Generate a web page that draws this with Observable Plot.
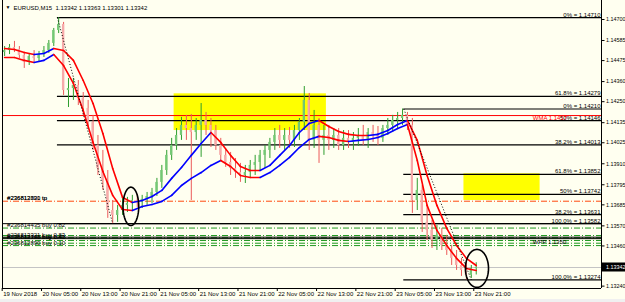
<!DOCTYPE html>
<html><head><meta charset="utf-8">
<script src="https://cdn.jsdelivr.net/npm/d3@7"></script>
<script src="https://cdn.jsdelivr.net/npm/@observablehq/plot@0.6"></script>
<style>html,body{margin:0;padding:0;background:#f0f0f0;overflow:hidden}svg{display:block}</style>
</head><body><div id="chart"></div>
<script>
// ---------- data ----------
const symbol = "EURUSD,M15";
const lastQuote = [1.13342, 1.13363, 1.13301, 1.13342];
const firstBar = "2018-11-19T21:00Z"; // hourly aggregated bars
const opens = [1.14519,1.14530,1.14547,1.14536,1.14503,1.14465,1.14497,1.14486,1.14508,1.14530,1.14569,1.14640,1.14673,1.14311,1.14322,1.14339,1.14268,1.14213,1.14136,1.14010,1.13884,1.13819,1.13654,1.13627,1.13654,1.13682,1.13693,1.13709,1.13698,1.13715,1.13731,1.13753,1.13808,1.13873,1.13956,1.14010,1.14065,1.14120,1.14103,1.14081,1.14120,1.14147,1.14120,1.14092,1.14010,1.13956,1.13917,1.13884,1.13862,1.13846,1.13862,1.13901,1.13917,1.13956,1.13983,1.14027,1.14065,1.14038,1.14065,1.14038,1.14092,1.14136,1.14257,1.14038,1.14120,1.14038,1.14065,1.14038,1.14065,1.14010,1.14049,1.14027,1.14049,1.14065,1.14038,1.14081,1.14065,1.14049,1.14103,1.14120,1.14147,1.14158,1.14175,1.14120,1.13709,1.13764,1.13589,1.13545,1.13490,1.13518,1.13463,1.13435,1.13392,1.13353,1.13326,1.13299,1.13337];
const highs = [1.14552,1.14563,1.14580,1.14552,1.14519,1.14514,1.14530,1.14525,1.14552,1.14585,1.14651,1.14710,1.14684,1.14377,1.14377,1.14366,1.14300,1.14257,1.14175,1.14065,1.13983,1.13873,1.13709,1.13682,1.13720,1.13726,1.13737,1.13742,1.13737,1.13753,1.13775,1.13830,1.13901,1.13983,1.14049,1.14103,1.14164,1.14175,1.14180,1.14158,1.14240,1.14191,1.14158,1.14120,1.14049,1.13994,1.13972,1.13939,1.13912,1.13901,1.13928,1.13956,1.13983,1.14010,1.14049,1.14103,1.14120,1.14103,1.14109,1.14120,1.14158,1.14333,1.14295,1.14202,1.14158,1.14120,1.14120,1.14103,1.14103,1.14092,1.14092,1.14081,1.14103,1.14120,1.14103,1.14120,1.14114,1.14120,1.14158,1.14175,1.14191,1.14210,1.14191,1.14158,1.13830,1.13791,1.13682,1.13600,1.13572,1.13556,1.13518,1.13463,1.13435,1.13392,1.13370,1.13353,1.13368];
const lows = [1.14497,1.14508,1.14519,1.14486,1.14432,1.14448,1.14465,1.14465,1.14492,1.14514,1.14552,1.14623,1.14284,1.14218,1.14257,1.14229,1.14175,1.14103,1.13983,1.13846,1.13764,1.13611,1.13582,1.13589,1.13627,1.13643,1.13654,1.13671,1.13665,1.13682,1.13693,1.13731,1.13775,1.13846,1.13928,1.13983,1.14038,1.14038,1.13709,1.14038,1.13945,1.14065,1.13999,1.13983,1.13928,1.13890,1.13846,1.13830,1.13808,1.13802,1.13830,1.13846,1.13873,1.13884,1.13939,1.13983,1.13994,1.13983,1.13994,1.13999,1.14038,1.14092,1.13983,1.13994,1.13912,1.13956,1.13983,1.13994,1.13983,1.13983,1.13994,1.13983,1.14005,1.14010,1.13994,1.14027,1.14010,1.14027,1.14065,1.14081,1.14103,1.14120,1.14092,1.13638,1.13654,1.13534,1.13490,1.13446,1.13435,1.13435,1.13408,1.13353,1.13326,1.13293,1.13274,1.13282,1.13301];
const closes = [1.14530,1.14547,1.14536,1.14503,1.14465,1.14497,1.14486,1.14508,1.14530,1.14569,1.14640,1.14673,1.14311,1.14322,1.14339,1.14268,1.14213,1.14136,1.14010,1.13884,1.13819,1.13654,1.13627,1.13654,1.13682,1.13693,1.13709,1.13698,1.13715,1.13731,1.13753,1.13808,1.13873,1.13956,1.14010,1.14065,1.14120,1.14103,1.14081,1.14120,1.14147,1.14120,1.14092,1.14010,1.13956,1.13917,1.13884,1.13862,1.13846,1.13862,1.13901,1.13917,1.13956,1.13983,1.14027,1.14065,1.14038,1.14065,1.14038,1.14092,1.14136,1.14257,1.14038,1.14120,1.14038,1.14065,1.14038,1.14065,1.14010,1.14049,1.14027,1.14049,1.14065,1.14038,1.14081,1.14065,1.14049,1.14103,1.14120,1.14147,1.14158,1.14175,1.14120,1.13709,1.13764,1.13589,1.13545,1.13490,1.13518,1.13463,1.13435,1.13392,1.13353,1.13326,1.13299,1.13337,1.13342];
// two moving averages, sampled every 2 hours
const maSlow = [1.14541,1.14536,1.14519,1.14508,1.14514,1.14541,1.14530,1.14476,1.14366,1.14240,1.14076,1.13884,1.13726,1.13698,1.13709,1.13731,1.13764,1.13830,1.13890,1.13956,1.14021,1.14081,1.14027,1.13956,1.13895,1.13873,1.13873,1.13901,1.13956,1.14010,1.14081,1.14131,1.14147,1.14114,1.14087,1.14071,1.14065,1.14065,1.14071,1.14092,1.14125,1.14147,1.14038,1.13846,1.13682,1.13556,1.13463,1.13392,1.13353];
const maFast = [1.14492,1.14492,1.14476,1.14465,1.14476,1.14508,1.14448,1.14350,1.14202,1.14027,1.13868,1.13737,1.13660,1.13654,1.13676,1.13687,1.13704,1.13737,1.13791,1.13830,1.13862,1.13901,1.13928,1.13895,1.13846,1.13835,1.13835,1.13862,1.13901,1.13945,1.13999,1.14043,1.14060,1.14054,1.14038,1.14032,1.14038,1.14043,1.14054,1.14076,1.14103,1.14125,1.13928,1.13682,1.13545,1.13463,1.13392,1.13337,1.13326];
// axes
const xTickTimes = ["2018-11-19T21:00Z","2018-11-20T05:00Z","2018-11-20T13:00Z","2018-11-20T21:00Z","2018-11-21T05:00Z","2018-11-21T13:00Z","2018-11-21T21:00Z","2018-11-22T05:00Z","2018-11-22T13:00Z","2018-11-22T21:00Z","2018-11-23T05:00Z","2018-11-23T13:00Z","2018-11-23T21:00Z"];
const xTickLabels = ["19 Nov 2018","20 Nov 05:00","20 Nov 13:00","20 Nov 21:00","21 Nov 05:00","21 Nov 13:00","21 Nov 21:00","22 Nov 05:00","22 Nov 13:00","22 Nov 21:00","23 Nov 05:00","23 Nov 13:00","23 Nov 21:00"];
const yTicks = [1.14700,1.14585,1.14475,1.14360,1.14250,1.14135,1.14025,1.13910,1.13795,1.13685,1.13570,1.13460,1.13240];
const viewStart = "2018-11-19T21:04Z", viewEnd = "2018-11-24T23:00Z";
const priceLow = 1.13227, priceHigh = 1.14804;
// fibonacci retracements
const fib1Start = "2018-11-20T08:15Z";
const fib1Names = ["0%","61.8%","50%","38.2%","100.0%"];
const fib1Values = [1.14710,1.14279,1.14146,1.14013,1.13582];
const fib2Start = "2018-11-23T06:45Z";
const fib2Names = ["0%","61.8%","50%","38.2%","100.0%"];
const fib2Values = [1.14210,1.13852,1.13742,1.13631,1.13274];
// rectangles
const zoneStart = ["2018-11-21T08:00Z","2018-11-23T19:00Z"];
const zoneEnd = ["2018-11-22T15:00Z","2018-11-24T10:30Z"];
const zoneTop = [1.14293,1.13855];
const zoneBottom = [1.14092,1.13709];
// zigzag legs
const zigFrom = ["2018-11-20T08:15Z","2018-11-23T06:45Z"];
const zigFromPrice = [1.14710,1.14210];
const zigTo = ["2018-11-20T19:30Z","2018-11-23T20:30Z"];
const zigToPrice = [1.13582,1.13274];
// ellipses (bounds)
const ellStart = ["2018-11-20T21:36Z","2018-11-23T19:18Z"];
const ellEnd = ["2018-11-21T00:48Z","2018-11-24T00:00Z"];
const ellTop = [1.13782,1.13441];
const ellBottom = [1.13572,1.13233];
// indicator lines
const wmaLevel = 1.14174, wmaText = "WMA 1.1417";
const wppLevel = 1.13500, wppText = "WPP 1.1350";
const blackLevels = [1.13582, 1.13508];
const tpLevel = 1.13705;
const buyLevels = [1.13558,1.13517,1.13505,1.13490,1.13475,1.13462];
const orderTexts = ["#236812890 tp","#236813321 tp","#236814435 buy 0.82","#236813321 buy 0.83","#236812740 buy 0.43","#236813321 buy 0.43","#236812890 buy 0.10"];
const orderTextLevels = [1.13705,1.13705,1.13558,1.13505,1.13490,1.13490,1.13462];
const labelTime = "2018-11-24T09:00Z";
const orderLabelTime = "2018-11-19T22:00Z";

// ---------- build ----------
const H = 3600e3;
const T0 = Date.parse(firstBar);
const D = s => new Date(Date.parse(s));
const x0 = D(viewStart), x1 = D(viewEnd);
const pxPerHour = 599 / ((x1 - x0) / H);
const pxPrice = 288 / (priceHigh - priceLow);
const candles = closes.map((c, i) => ({
  t: new Date(T0 + i * H), tm: new Date(T0 + (i + 0.5) * H),
  o: opens[i], h: highs[i], l: lows[i], c, up: c >= opens[i]
}));
function segs(arr) {
  const out = [];
  for (let k = 0; k < arr.length - 1; k++) {
    out.push({a: new Date(T0 + (2 * k + 0.5) * H), b: new Date(T0 + (2 * k + 2.5) * H),
      p: arr[k], q: arr[k + 1], rising: arr[k + 1] > arr[k]});
  }
  return out;
}
const maSegs = segs(maSlow).concat(segs(maFast));
const fibs = fib1Values.map((v, i) => ({s: D(fib1Start), v, n: fib1Names[i]}))
  .concat(fib2Values.map((v, i) => ({s: D(fib2Start), v, n: fib2Names[i]})));
const zones = zoneStart.map((s, i) => ({a: D(s), b: D(zoneEnd[i]), t: zoneTop[i], bo: zoneBottom[i]}));
const zig = zigFrom.map((s, i) => ({a: D(s), b: D(zigTo[i]), p: zigFromPrice[i], q: zigToPrice[i]}));
const ellPts = [];
ellStart.forEach((s, i) => {
  const a = +D(s), b = +D(ellEnd[i]);
  const cx = (a + b) / 2, rx = (b - a) / 2, cy = (ellTop[i] + ellBottom[i]) / 2, ry = (ellTop[i] - ellBottom[i]) / 2;
  for (let k = 0; k <= 72; k++) {
    const th = k / 72 * 2 * Math.PI;
    ellPts.push({id: i, t: new Date(cx + rx * Math.cos(th)), p: cy + ry * Math.sin(th)});
  }
});
const orders = orderTexts.map((t, i) => ({t, v: orderTextLevels[i]}));
const font = "Liberation Sans, Arial, sans-serif";
const fs = 6, fsAxis = 5.4;
const upC = "#2f9e2f", upF = "#74c874", dnC = "#ec5a5a", dnF = "#f6aaaa";
const xTicks = xTickTimes.map(D);
const tickEnd = new Date(+x1 + 3 / pxPerHour * H);
const boxEnd = new Date(+x1 + 24 / pxPerHour * H);

const chart = Plot.plot({
  width: 625, height: 299,
  marginLeft: 2, marginRight: 24, marginTop: 0, marginBottom: 11,
  style: {background: "#fffff0", fontFamily: font},
  x: {type: "utc", domain: [x0, x1], axis: null},
  y: {domain: [priceLow, priceHigh], axis: null},
  marks: [
    Plot.rect(zones, {x1: "a", x2: "b", y1: "bo", y2: "t", fill: "#ffff00"}),
    Plot.ruleY([lastQuote[3]], {stroke: "#c4c4c4", strokeWidth: 1}),
    Plot.ruleY([tpLevel], {stroke: "#ff4a10", strokeWidth: 1, strokeDasharray: "6,2,1,2"}),
    Plot.ruleY(buyLevels, {stroke: "#1f9a1f", strokeWidth: 1, strokeDasharray: "6,2,1,2"}),
    Plot.ruleY([wmaLevel], {stroke: "#ff0000", strokeWidth: 1}),
    Plot.ruleY(blackLevels.concat([wppLevel]), {stroke: "#000", strokeWidth: 1}),
    Plot.ruleY(fibs, {y: "v", x1: "s", x2: x1, stroke: "#000", strokeWidth: 1.2}),
    Plot.ruleX(candles, {x: "tm", y1: "l", y2: "h", stroke: d => d.up ? upC : dnC, strokeWidth: 1}),
    Plot.rect(candles, {x1: d => new Date(+d.t + 0.27 * H), x2: d => new Date(+d.t + 0.73 * H),
      y1: "o", y2: "c", fill: d => d.up ? upF : dnF}),
    Plot.link(maSegs, {x1: "a", y1: "p", x2: "b", y2: "q", stroke: d => d.rising ? "#0000ff" : "#ff0000", strokeWidth: 1.6, strokeLinecap: "round"}),
    Plot.link(zig, {x1: "a", y1: "p", x2: "b", y2: "q", stroke: "#000", strokeWidth: 1, strokeDasharray: "1,2"}),
    Plot.line(ellPts, {x: "t", y: "p", z: "id", stroke: "#000", strokeWidth: 1.6}),
    Plot.text(fibs, {x: x1, y: "v", text: d => `${d.n} = ${d.v.toFixed(5)}`, textAnchor: "end", lineAnchor: "bottom", dx: -1, dy: -1, fontSize: fs, fontFamily: font, fill: "#000"}),
    Plot.text([wmaText], {x: D(labelTime), y: wmaLevel, text: d => d, textAnchor: "start", dy: 3, fontSize: fs, fontFamily: font, fill: "#ff0000"}),
    Plot.text([wppText], {x: D(labelTime), y: wppLevel, text: d => d, textAnchor: "start", dy: 3.5, fontSize: fs, fontFamily: font, fill: "#000"}),
    Plot.text(orders, {x: D(orderLabelTime), y: "v", text: "t", textAnchor: "start", lineAnchor: "bottom", dy: -1, fontSize: fs, fontFamily: font, fill: "#000"}),
    // title
    Plot.text([`${symbol}  ${lastQuote.map(v => v.toFixed(5)).join(" ")}`], {frameAnchor: "top-left", dx: 11, dy: 5, text: d => d, textAnchor: "start", fontSize: fs, fontFamily: font, fill: "#000"}),
    Plot.text(["▼"], {frameAnchor: "top-left", dx: 3, dy: 5, text: d => d, textAnchor: "start", fontSize: 5, fill: "#000"}),
    // frame / axes
    Plot.ruleY([priceLow], {stroke: "#000", strokeWidth: 1}),
    Plot.ruleX([x0, x1], {stroke: "#000", strokeWidth: 1}),
    Plot.ruleX(xTicks, {x: d => d, y1: priceLow, y2: priceLow - 3 / pxPrice, stroke: "#000"}),
    Plot.text(xTicks, {x: d => d, y: priceLow, text: (d, i) => xTickLabels[i], textAnchor: "start", dx: 1, dy: 6, fontSize: fs, fontFamily: font, fill: "#000"}),
    Plot.link(yTicks, {x1: x1, x2: tickEnd, y1: d => d, y2: d => d, stroke: "#000"}),
    Plot.text(yTicks, {x: x1, y: d => d, text: d => d.toFixed(5), textAnchor: "start", dx: 4.5, fontSize: fsAxis, fontFamily: font, fill: "#000"}),
    Plot.rect([lastQuote[3]], {x1: x1, x2: boxEnd, y1: d => d - 4.5 / pxPrice, y2: d => d + 4.5 / pxPrice, fill: "#000"}),
    Plot.text([lastQuote[3]], {x: x1, y: d => d, text: d => d.toFixed(5), textAnchor: "start", dx: 4.5, fontSize: fsAxis, fontFamily: font, fill: "#fff"})
  ]
});
document.getElementById("chart").appendChild(chart);
</script>
</body></html>
